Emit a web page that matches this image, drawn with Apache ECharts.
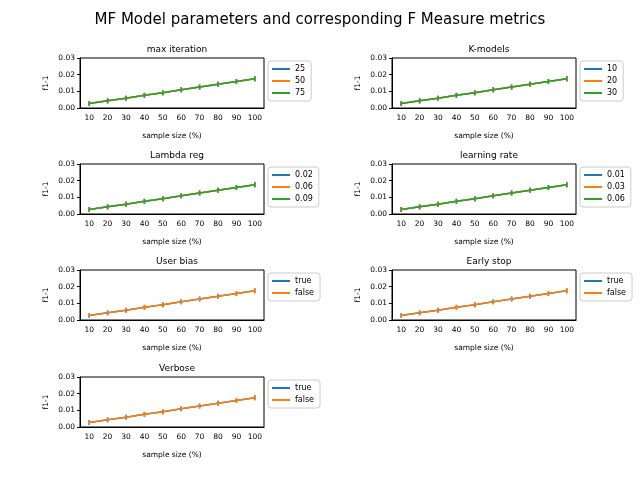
<!DOCTYPE html>
<html>
<head>
<meta charset="utf-8">
<title>MF Model parameters</title>
<script src="https://cdn.jsdelivr.net/npm/echarts@6/dist/echarts.min.js"></script>
<style>html,body{margin:0;padding:0;background:#fff}#chart{width:640px;height:480px}</style>
</head>
<body>
<div id="chart"></div>
<script>
var sampleSizes = ['10', '20', '30', '40', '50', '60', '70', '80', '90', '100'];
var f1Base = [0.0027, 0.0043, 0.0059, 0.0076, 0.0092, 0.0109, 0.0126, 0.0142, 0.0159, 0.0176];
var colors = ['#1f77b4', '#ff7f0e', '#2ca02c'];

// one entry per subplot: title, legend labels, values per label
var panels = [
    {title: 'max iteration', labels: ['25', '50', '75'], values: [f1Base, f1Base, f1Base]},
    {title: 'K-models', labels: ['10', '20', '30'], values: [f1Base, f1Base, f1Base]},
    {title: 'Lambda reg', labels: ['0.02', '0.06', '0.09'], values: [f1Base, f1Base, f1Base]},
    {title: 'learning rate', labels: ['0.01', '0.03', '0.06'], values: [f1Base, f1Base, f1Base]},
    {title: 'User bias', labels: ['true', 'false'], values: [f1Base, f1Base]},
    {title: 'Early stop', labels: ['true', 'false'], values: [f1Base, f1Base]},
    {title: 'Verbose', labels: ['true', 'false'], values: [f1Base, f1Base]}
];

var rowTops = [58, 164, 270, 377];
var colLefts = [80, 392];
var W = 184, H = 50;

var grids = [], xAxes = [], yAxes = [], series = [], titles = [], legends = [];
titles.push({text: 'MF Model parameters and corresponding F Measure metrics', left: 'center', top: 8,
    textStyle: {fontSize: 15, fontWeight: 'normal', color: '#000', fontFamily: 'DejaVu Sans'}});

panels.forEach(function (p, i) {
    var left = colLefts[i % 2], top = rowTops[Math.floor(i / 2)];
    grids.push({left: left, top: top, width: W, height: H, show: true, borderColor: '#000', borderWidth: 1});
    xAxes.push({type: 'category', gridIndex: i, data: sampleSizes, boundaryGap: true,
        name: 'sample size (%)', nameLocation: 'middle', nameGap: 24,
        nameTextStyle: {fontSize: 7.5, color: '#000'},
        axisLine: {lineStyle: {color: '#000'}}, axisTick: {alignWithLabel: true, length: 3, lineStyle: {color: '#000'}},
        axisLabel: {fontSize: 7.5, color: '#000', margin: 6, interval: 0}, splitLine: {show: false}});
    yAxes.push({type: 'value', gridIndex: i, min: 0, max: 0.03, interval: 0.01,
        name: 'f1-1', nameLocation: 'middle', nameGap: 30, nameRotate: 90,
        nameTextStyle: {fontSize: 7.5, color: '#000'},
        axisLine: {show: true, lineStyle: {color: '#000'}}, axisTick: {show: true, length: 3, lineStyle: {color: '#000'}},
        axisLabel: {fontSize: 7.5, color: '#000', margin: 5, formatter: function (v) { return v.toFixed(2); }},
        splitLine: {show: false}});
    titles.push({text: p.title, left: left + W / 2, textAlign: 'center', top: top - 18,
        textStyle: {fontSize: 9, fontWeight: 'normal', color: '#000', fontFamily: 'DejaVu Sans'}});
    var legendData = [];
    p.labels.forEach(function (lab, k) {
        var name = lab + '#' + i;
        legendData.push(name);
        series.push({type: 'line', name: name, xAxisIndex: i, yAxisIndex: i, data: p.values[k],
            color: colors[k], lineStyle: {width: 1.5}, symbol: 'rect', symbolSize: [1.5, 5],
            itemStyle: {color: colors[k]}, animation: false});
    });
    legends.push({data: legendData, orient: 'vertical', left: left + W + 4, top: top + 3,
        itemWidth: 18, itemHeight: 2, itemGap: 4, icon: 'rect',
        padding: [4, 6, 4, 4], borderColor: '#ccc', borderWidth: 1, borderRadius: 3,
        formatter: function (n) { return n.split('#')[0]; },
        textStyle: {fontSize: 8, color: '#000'}});
});

var chart = echarts.init(document.getElementById('chart'));
chart.setOption({
    textStyle: {fontFamily: 'DejaVu Sans'},
    animation: false,
    title: titles, grid: grids, xAxis: xAxes, yAxis: yAxes, legend: legends, series: series
});
</script>
</body>
</html>
